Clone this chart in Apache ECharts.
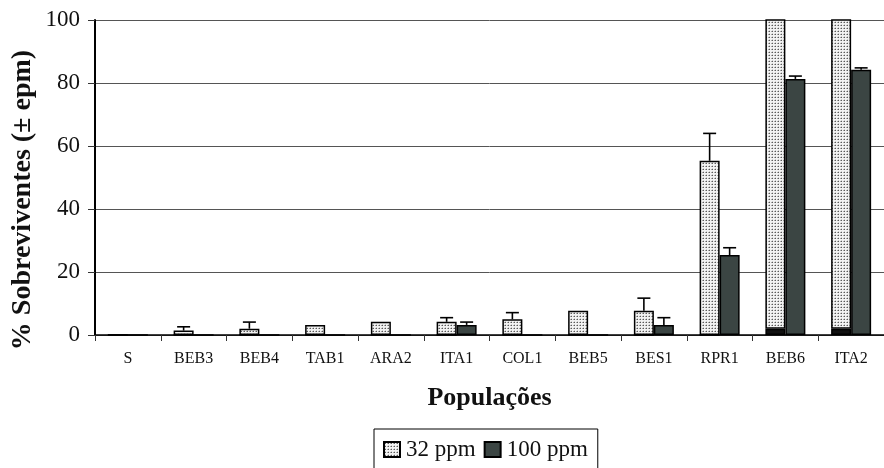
<!DOCTYPE html>
<html>
<head>
<meta charset="utf-8">
<script src="https://cdn.jsdelivr.net/npm/echarts@6/dist/echarts.min.js"></script>
<style>
html,body{margin:0;padding:0;background:#fff;}
#chart{width:884px;height:468px;}
</style>
</head>
<body>
<div id="chart"></div>
<script>
// ---- data ----
var categories = ['S','BEB3','BEB4','TAB1','ARA2','ITA1','COL1','BEB5','BES1','RPR1','BEB6','ITA2'];
var ppm32 = [0, 1.4, 2.0, 3.2, 4.2, 4.2, 5.0, 7.7, 7.7, 55.3, 100, 100];
var ppm32Err = [null, 1.2, 2.1, null, null, 1.3, 2.1, null, 4.0, 8.7, null, null];
var ppm32Base = [0, 0, 0, 0, 0, 0, 0, 0, 0, 0, 2, 2];
var ppm100 = [0, 0, 0, 0, 0, 3.2, 0, 0, 3.2, 25.4, 81.3, 84.2];
var ppm100Err = [null, null, null, null, null, 0.9, null, null, 2.3, 2.3, 0.9, 0.6];
var yTicks = [0, 20, 40, 60, 80, 100];

// ---- styles ----
var FONT = 'Liberation Serif';
var BAR_W = 20;
var DARK = '#3b4543';

function makePattern() {
  var c = document.createElement('canvas');
  c.width = 3; c.height = 3;
  var ctx = c.getContext('2d');
  ctx.fillStyle = '#f2f2f2';
  ctx.fillRect(0, 0, 3, 3);
  ctx.fillStyle = '#5a5a5a';
  ctx.fillRect(1, 1, 1, 1);
  ctx.fillStyle = '#a8a8a8';
  ctx.fillRect(0, 1, 1, 1);
  ctx.fillStyle = '#cfcfcf';
  ctx.fillRect(1, 0, 1, 1);
  return c;
}
var pattern = { image: makePattern(), repeat: 'repeat' };

function errData(vals, errs) {
  var out = [];
  for (var i = 0; i < vals.length; i++) {
    if (errs[i] != null) out.push([i, vals[i], errs[i]]);
  }
  return out;
}

function errRender(offset) {
  return function (params, api) {
    var base = api.coord([api.value(0), api.value(1)]);
    var top = api.coord([api.value(0), api.value(1) + api.value(2)]);
    var x = base[0] + offset;
    var cap = 6.5;
    var st = { stroke: '#000', lineWidth: 1.6 };
    return {
      type: 'group',
      children: [
        { type: 'line', shape: { x1: x, y1: base[1], x2: x, y2: top[1] }, style: st },
        { type: 'line', shape: { x1: x - cap, y1: top[1], x2: x + cap, y2: top[1] }, style: st }
      ]
    };
  };
}

var chart = echarts.init(document.getElementById('chart'), null, { renderer: 'canvas' });
chart.setOption({
  animation: false,
  backgroundColor: '#fff',
  textStyle: { fontFamily: FONT, color: '#111' },
  grid: { left: 95, top: 20, width: 796, height: 315, containLabel: false },
  legend: {
    data: ['32 ppm', '100 ppm'],
    left: 374, top: 429,
    orient: 'horizontal',
    itemWidth: 16, itemHeight: 15, itemGap: 8,
    padding: [9, 10, 9, 9],
    borderColor: '#000', borderWidth: 1,
    icon: 'rect',
    textStyle: { fontFamily: FONT, fontSize: 23, color: '#111', padding: [0, 0, 0, 1] }
  },
  graphic: [{
    type: 'text',
    x: 23, y: 200,
    rotation: Math.PI / 2,
    style: {
      text: '% Sobreviventes (± epm)',
      font: 'bold 28px "Liberation Serif"',
      fill: '#111',
      align: 'center',
      verticalAlign: 'middle'
    }
  }],
  xAxis: {
    type: 'category',
    data: categories,
    boundaryGap: true,
    axisLine: { lineStyle: { color: '#000', width: 1.5 } },
    axisTick: { show: true, length: 6, alignWithLabel: false, lineStyle: { color: '#333', width: 1 } },
    axisLabel: { fontFamily: FONT, fontSize: 16, color: '#111', margin: 16, interval: 0 },
    name: 'Populações',
    nameLocation: 'middle',
    nameGap: 50,
    nameTextStyle: { fontFamily: FONT, fontSize: 26, fontWeight: 'bold', color: '#111' }
  },
  yAxis: {
    type: 'value',
    min: 0, max: 100, interval: 20,
    axisLine: { show: true, lineStyle: { color: '#000', width: 2 } },
    axisTick: { show: true, inside: false, length: 7, lineStyle: { color: '#333', width: 1 } },
    axisLabel: { fontFamily: FONT, fontSize: 23, color: '#111', margin: 15,
      formatter: function (v) { return yTicks.indexOf(v) >= 0 ? String(v) : ''; } },
    splitLine: { show: true, lineStyle: { color: '#555', width: 1 } }
  },
  series: [
    {
      name: '32 ppm base', type: 'bar', stack: 'a', barWidth: BAR_W, barGap: '0%',
      data: ppm32Base,
      itemStyle: { color: '#111', borderColor: '#000', borderWidth: 1.5 },
      z: 2
    },
    {
      name: '32 ppm', type: 'bar', stack: 'a', barWidth: BAR_W, barGap: '0%',
      data: ppm32, clip: true,
      itemStyle: { color: pattern, borderColor: '#000', borderWidth: 1.5 },
      z: 2
    },
    {
      name: '100 ppm', type: 'bar', barWidth: BAR_W, barGap: '0%',
      data: ppm100,
      itemStyle: { color: DARK, borderColor: '#000', borderWidth: 1.5 },
      z: 2
    },
    {
      name: 'err32', type: 'custom', renderItem: errRender(-BAR_W / 2),
      data: errData(ppm32, ppm32Err), z: 3, silent: true
    },
    {
      name: 'err100', type: 'custom', renderItem: errRender(BAR_W / 2),
      data: errData(ppm100, ppm100Err), z: 3, silent: true
    }
  ]
});
</script>
</body>
</html>
